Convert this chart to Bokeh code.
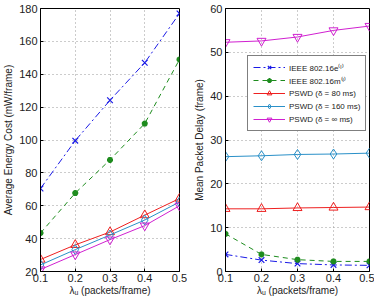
from bokeh.plotting import figure
from bokeh.layouts import row
from bokeh.models import Legend, LegendItem, FixedTicker, Range1d
from bokeh.embed import file_html
from bokeh.resources import INLINE

# Arrival rate (packets/frame)
lam = [0.1, 0.2, 0.3, 0.4, 0.5]

# Average energy cost (mW/frame)
energy_e = [70.5, 99.6, 124.2, 147.0, 177.0]
energy_m = [43.4, 67.7, 87.9, 110.0, 149.0]
energy_p80 = [27.3, 36.2, 44.0, 54.3, 64.4]
energy_p160 = [24.0, 33.3, 42.2, 51.3, 62.3]
energy_pinf = [21.2, 30.3, 39.4, 47.9, 60.0]

# Mean packet delay (frame)
delay_e = [3.9, 2.6, 1.8, 1.5, 1.4]
delay_m = [8.6, 3.9, 2.7, 2.3, 2.3]
delay_p80 = [14.3, 14.3, 14.5, 14.6, 14.7]
delay_p160 = [26.2, 26.4, 26.7, 26.8, 27.0]
delay_pinf = [52.3, 52.6, 53.5, 55.0, 56.0]

x_ticks = [0.1, 0.2, 0.3, 0.4, 0.5]
energy_ticks = [20, 40, 60, 80, 100, 120, 140, 160, 180]
delay_ticks = [0, 10, 20, 30, 40, 50, 60]

labels = ["IEEE 802.16e⁽ˡ⁾", "IEEE 802.16m⁽ˡ⁾", "PSWD (δ = 80 ms)",
          "PSWD (δ = 160 ms)", "PSWD (δ = ∞ ms)"]

FONT = "Liberation Sans"
BLUE = "#1a1ae6"
GREEN = "#1e8c1e"
RED = "#ee2020"
CYAN = "#2a90c8"
MAGENTA = "#d020d0"


def style_axis(ax):
    ax.major_label_text_font = FONT
    ax.major_label_text_font_size = "11px"
    ax.major_label_text_color = "#222222"
    ax.axis_label_text_font = FONT
    ax.axis_label_text_font_size = "10px"
    ax.axis_label_text_font_style = "normal"
    ax.axis_label_text_color = "#222222"
    ax.major_tick_in = 3
    ax.major_tick_out = 0
    ax.minor_tick_in = 0
    ax.minor_tick_out = 0
    ax.axis_line_color = "black"
    ax.axis_line_width = 1
    ax.major_label_standoff = 3
    ax.axis_label_standoff = 2


def make_fig(width, yr, yticks, ylabel, left, right):
    p = figure(width=width, height=298, output_backend="svg", toolbar_location=None,
               x_range=Range1d(0.1, 0.5), y_range=Range1d(*yr),
               min_border_left=left, min_border_right=right,
               min_border_top=8, min_border_bottom=26)
    p.background_fill_color = "white"
    p.border_fill_color = "white"
    p.outline_line_color = "black"
    p.outline_line_width = 1
    p.xaxis.ticker = FixedTicker(ticks=x_ticks)
    p.yaxis.ticker = FixedTicker(ticks=yticks)
    p.xaxis.axis_label = "λᵤ (packets/frame)"
    p.yaxis.axis_label = ylabel
    style_axis(p.xaxis[0])
    style_axis(p.yaxis[0])
    p.xaxis.major_label_standoff = 2
    p.xaxis.axis_label_standoff = 0
    p.xgrid.grid_line_color = "#999999"
    p.ygrid.grid_line_color = "#999999"
    p.xgrid.grid_line_dash = "1 3"
    p.ygrid.grid_line_dash = "1 3"
    p.xgrid.ticker = FixedTicker(ticks=x_ticks)
    p.ygrid.ticker = FixedTicker(ticks=yticks)
    return p


def draw(p, ys):
    e, m, p80, p160, pinf = ys
    l1 = p.line(lam, e, color=BLUE, line_width=1, line_dash="7 3 2 3")
    s1 = p.scatter(lam, e, marker="x", size=8, line_color=BLUE, line_width=1.2)
    l2 = p.line(lam, m, color=GREEN, line_width=1, line_dash="5 4")
    s2 = p.scatter(lam, m, marker="asterisk", size=6, line_color=GREEN, line_width=2)
    l3 = p.line(lam, p80, color=RED, line_width=1)
    s3 = p.scatter(lam, p80, marker="triangle", size=9, line_color=RED,
                   fill_color=None, line_width=1)
    l4 = p.line(lam, p160, color=CYAN, line_width=1)
    s4 = p.scatter(lam, p160, marker="diamond", size=10, line_color=CYAN,
                   fill_color=None, line_width=1)
    l5 = p.line(lam, pinf, color=MAGENTA, line_width=1)
    s5 = p.scatter(lam, pinf, marker="inverted_triangle", size=9, line_color=MAGENTA,
                   fill_color=None, line_width=1)
    return [[l1, s1], [l2, s2], [l3, s3], [l4, s4], [l5, s5]]


p1 = make_fig(187, (20, 180), energy_ticks, "Average Energy Cost (mW/frame)", 34, 8)
draw(p1, [energy_e, energy_m, energy_p80, energy_p160, energy_pinf])

p2 = make_fig(187, (0, 60), delay_ticks, "Mean Packet Delay (frame)", 38, 5)
rs = draw(p2, [delay_e, delay_m, delay_p80, delay_p160, delay_pinf])

legend = Legend(items=[LegendItem(label=lb, renderers=r) for lb, r in zip(labels, rs)],
                location=(22, 140))
legend.label_text_font = FONT
legend.label_text_font_size = "8px"
legend.label_text_color = "#222222"
legend.glyph_width = 32
legend.glyph_height = 12
legend.label_height = 12
legend.spacing = 1
legend.padding = 5
legend.margin = 0
legend.label_standoff = 4
legend.border_line_color = "black"
legend.border_line_width = 1
legend.background_fill_alpha = 1
p2.add_layout(legend, "center")

layout = row(p1, p2, spacing=0)
open("out.html", "w").write(file_html(layout, INLINE))
